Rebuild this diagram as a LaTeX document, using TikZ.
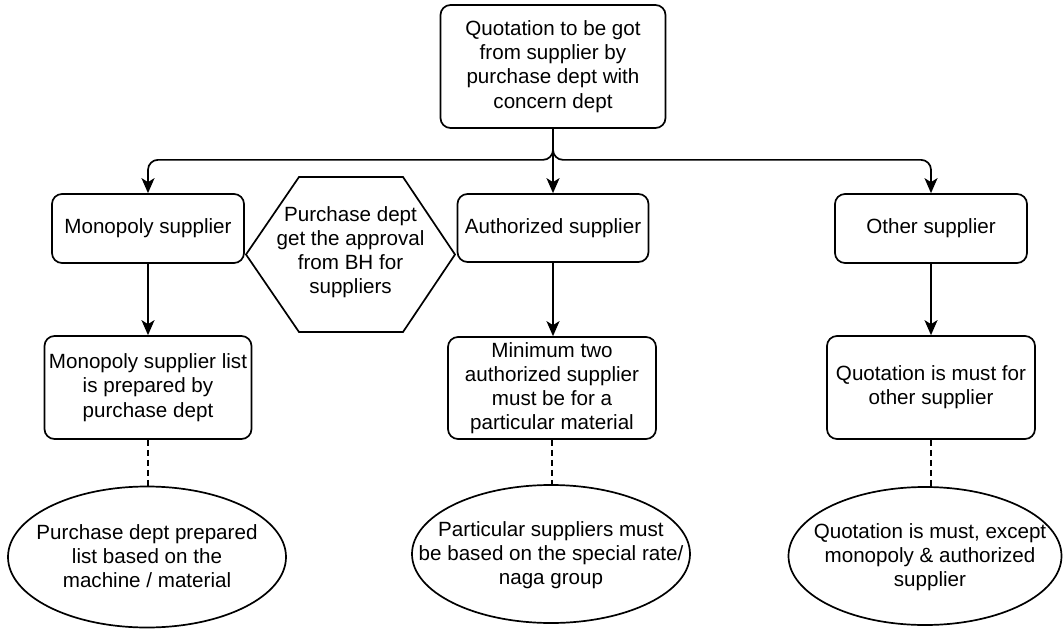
\documentclass[tikz,border=0pt]{standalone}
\usepackage{fontspec}
\setmainfont{Liberation Sans}
\usetikzlibrary{arrows.meta,shapes.geometric}
\begin{document}
\begin{tikzpicture}[x=1pt,y=-1pt,
  every node/.style={font=\fontsize{20.6}{24.2}\selectfont, align=center, inner sep=0pt},
  box/.style={draw, line width=1.7pt, rounded corners=10pt, rectangle},
  oval/.style={draw, line width=1.7pt, ellipse},
  arr/.style={line width=1.7pt, -{Stealth[length=15pt,width=13pt,inset=4pt]}},
  dash line/.style={line width=1.8pt, dash pattern=on 6pt off 4pt}]
\useasboundingbox[fill=white] (0,0) rectangle (1063,629);

% top
\node[box, minimum width=225pt, minimum height=123pt] (top) at (553,66.5)
  {Quotation to be got\\from supplier by\\purchase dept with\\concern dept};

% row 2
\node[box, minimum width=192pt, minimum height=69pt] (mono) at (148,228.5) {Monopoly supplier};
\node[box, minimum width=191pt, minimum height=68pt] (auth) at (553,228) {Authorized supplier};
\node[box, minimum width=192pt, minimum height=69pt] (other) at (931,228.5) {Other supplier};

% hexagon
\node (hex) at (350.5,252) {Purchase dept\\get the approval\\from BH for\\suppliers};
\draw[line width=1.7pt, line join=miter] (246,254.5) -- (299,177) -- (403,177) -- (455,254.5) -- (403,332) -- (299,332) -- cycle;

% row 3
\node[box, minimum width=207pt, minimum height=103pt] (monolist) at (148,387.5)
  {Monopoly supplier list\\is prepared by\\purchase dept};
\node[box, minimum width=208pt, minimum height=102pt] (mintwo) at (552,388)
  {Minimum two\\authorized supplier\\must be for a\\particular material};
\node[box, minimum width=208pt, minimum height=103pt] (quot) at (931,387.5)
  {Quotation is must for\\other supplier};

% ellipses
\node[oval, minimum width=278pt, minimum height=141pt] (e1) at (147,557) {};
\node at (147,556) {Purchase dept prepared\\list based on the\\machine / material};
\node[oval, minimum width=278pt, minimum height=138pt] (e2) at (551,554) {};
\node at (551,555) {Particular suppliers must\\be based on the special rate/\\naga group};
\node[oval, minimum width=273pt, minimum height=138pt] (e3) at (925,556) {};
\node at (930,557) {Quotation is must, except\\monopoly \& authorized\\supplier};

% connectors
\draw[arr, rounded corners=10pt] (top.south) -- ++(0,31) -| (mono.north);
\draw[arr, rounded corners=10pt] (top.south) -- ++(0,31) -| (other.north);
\draw[arr] (top.south) -- (auth.north);

\draw[arr] (mono.south) -- (monolist.north);
\draw[arr] (auth.south) -- (mintwo.north -| auth.south);
\draw[arr] (other.south) -- (quot.north -| other.south);

\draw[dash line] (monolist.south) -- (e1.north -| monolist.south);
\draw[dash line] (mintwo.south) -- (e2.north -| mintwo.south);
\draw[dash line] (quot.south) -- (e3.north -| quot.south);
\end{tikzpicture}
\end{document}
